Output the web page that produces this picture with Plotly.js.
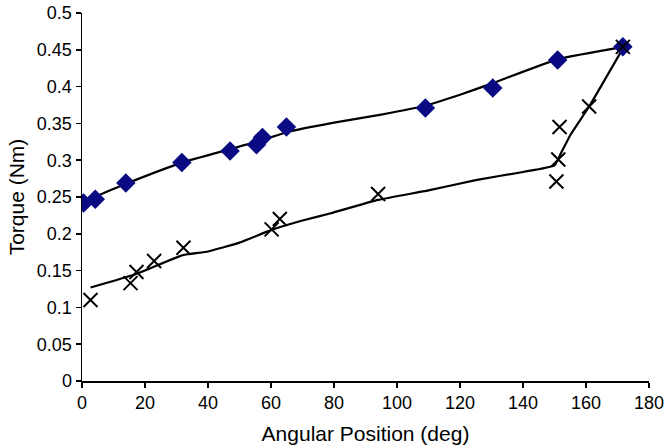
<!DOCTYPE html>
<html><head><meta charset="utf-8">
<script src="https://cdn.plot.ly/plotly-3.0.1.min.js"></script>
<style>html,body{margin:0;padding:0;background:#fff}#chart{width:665px;height:448px}</style>
</head><body><div id="chart"></div>
<script>
// Upper series (diamonds)
const upperX = [0.5, 4.2, 13.9, 31.7, 47, 55.4, 57.3, 64.9, 109, 130.4, 151, 171.7];
const upperY = [0.242, 0.247, 0.269, 0.297, 0.3125, 0.321, 0.331, 0.345, 0.371, 0.398, 0.436, 0.454];
// Upper trend curve
const upperCurveX = [0.5, 4, 14, 32, 47, 57, 65, 80, 95, 109, 120, 130, 151, 172];
const upperCurveY = [0.243, 0.25, 0.268, 0.297, 0.315, 0.327, 0.338, 0.351, 0.362, 0.374, 0.389, 0.404, 0.437, 0.454];
// Lower series (crosses)
const lowerX = [2.7, 15.4, 17.3, 22.9, 32.2, 60.2, 62.8, 94, 150.6, 151.2, 151.6, 161, 171.7];
const lowerY = [0.11, 0.133, 0.148, 0.163, 0.181, 0.206, 0.22, 0.254, 0.271, 0.301, 0.345, 0.373, 0.454];
// Lower curve
const lowerCurveX = [2.7, 17, 32, 40, 50, 60, 70, 79, 94, 110, 125, 140, 150, 152, 155, 161, 172];
const lowerCurveY = [0.127, 0.145, 0.171, 0.176, 0.188, 0.205, 0.218, 0.228, 0.246, 0.259, 0.273, 0.284, 0.293, 0.309, 0.334, 0.373, 0.454];

const data = [
  {x: upperCurveX, y: upperCurveY, mode: 'lines', line: {color: '#000', width: 2.2, shape: 'spline', smoothing: 0.5}, showlegend: false, hoverinfo: 'skip'},
  {x: lowerCurveX, y: lowerCurveY, mode: 'lines', line: {color: '#000', width: 2.2, shape: 'spline', smoothing: 0.4}, showlegend: false, hoverinfo: 'skip'},
  {x: upperX, y: upperY, mode: 'markers', marker: {symbol: 'diamond', size: 15, color: '#0a0a82'}, showlegend: false},
  {x: lowerX, y: lowerY, mode: 'markers', marker: {symbol: 'x-thin-open', size: 14, color: '#000', line: {color: '#000', width: 2}}, showlegend: false}
];

const fam = 'Liberation Sans, Arial, sans-serif';
const axisFont = {family: fam, size: 18, color: '#000'};
const layout = {
  width: 665, height: 448,
  margin: {l: 82, r: 16, t: 13, b: 67},
  paper_bgcolor: '#fff', plot_bgcolor: '#fff',
  showlegend: false,
  xaxis: {
    range: [0, 180], dtick: 20, tick0: 0,
    showgrid: false, zeroline: false,
    showline: true, linecolor: '#000', linewidth: 1.5,
    ticks: 'outside', ticklen: 5, tickcolor: '#000', tickwidth: 1.5,
    tickfont: axisFont,
    title: {text: 'Angular Position (deg)', font: {family: fam, size: 21, color: '#000'}, standoff: 14}
  },
  yaxis: {
    range: [0, 0.5], dtick: 0.05, tick0: 0,
    showgrid: false, zeroline: false,
    showline: true, linecolor: '#000', linewidth: 1.5,
    ticks: 'outside', ticklen: 5, tickcolor: '#000', tickwidth: 1.5,
    tickfont: axisFont,
    title: {text: 'Torque (Nm)', font: {family: fam, size: 21, color: '#000'}, standoff: 6}
  }
};
Plotly.newPlot('chart', data, layout, {displayModeBar: false, staticPlot: true});
</script>
</body></html>
